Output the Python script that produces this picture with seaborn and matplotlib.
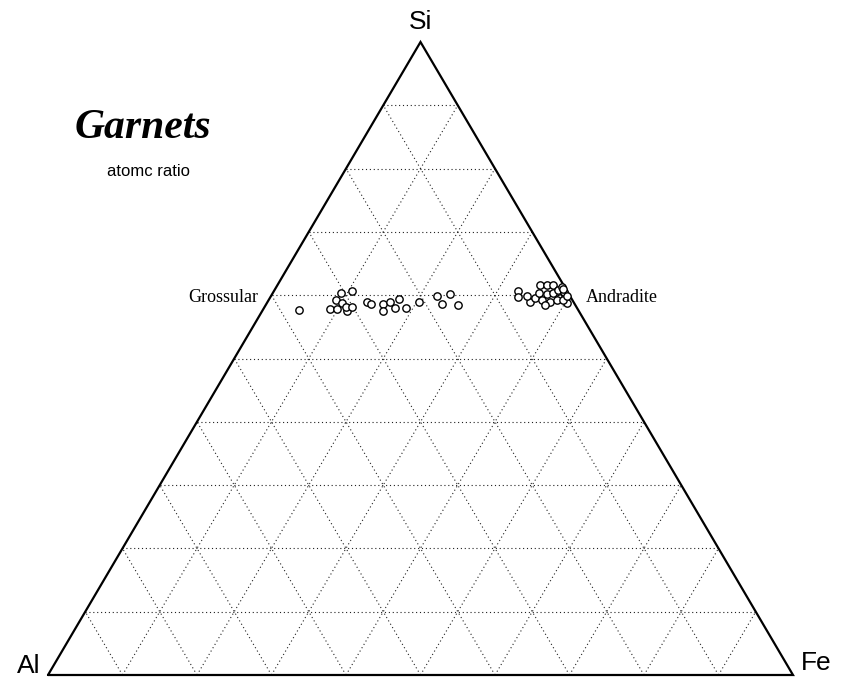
import numpy as np
import pandas as pd
import matplotlib
matplotlib.use("Agg")
import matplotlib.pyplot as plt
import seaborn as sns

# ---- data: atomic fractions (Si, Fe); Al = 1 - Si - Fe ----
grossular_si = [0.577, 0.603, 0.607, 0.592, 0.588, 0.578, 0.578, 0.575, 0.581, 0.581,
                0.590, 0.586, 0.586, 0.575, 0.590, 0.594, 0.580, 0.580, 0.590, 0.599,
                0.602, 0.586, 0.585]
grossular_fe = [0.049, 0.092, 0.105, 0.091, 0.101, 0.090, 0.099, 0.114, 0.109, 0.117,
                0.133, 0.141, 0.157, 0.162, 0.164, 0.174, 0.176, 0.191, 0.203, 0.223,
                0.239, 0.236, 0.258]
andradite_si = [0.607, 0.597, 0.590, 0.596, 0.616, 0.616, 0.616, 0.603, 0.602, 0.603,
                0.593, 0.590, 0.608, 0.596, 0.600, 0.588, 0.613, 0.593, 0.593, 0.599,
                0.585, 0.605, 0.598, 0.610]
andradite_fe = [0.328, 0.332, 0.352, 0.356, 0.352, 0.362, 0.370, 0.358, 0.369, 0.376,
                0.367, 0.379, 0.381, 0.389, 0.394, 0.403, 0.384, 0.387, 0.395, 0.344,
                0.375, 0.390, 0.398, 0.386]
vertex_labels = ["Al", "Fe", "Si"]
grid_fracs = [0.1, 0.2, 0.3, 0.4, 0.5, 0.6, 0.7, 0.8, 0.9]

si = np.array(grossular_si + andradite_si)
fe = np.array(grossular_fe + andradite_fe)
df = pd.DataFrame({"X": fe + si / 2.0, "Y": si})

sns.set_theme(style="white")
plt.rcParams["font.family"] = ["Liberation Sans", "DejaVu Sans"]
plt.rcParams["text.color"] = "black"

fig = plt.figure(figsize=(8.45, 6.84), dpi=100)
ax = fig.add_axes([0, 0, 1, 1])
ax.set_xlim(-48 / 745, (845 - 48) / 745)
ax.set_ylim(-(684 - 675) / 633, 675 / 633)
ax.axis("off")

# grid
gkw = dict(color="#222222", lw=0.8, ls=(0, (1, 2.5)), zorder=1)
for f in grid_fracs:
    # constant Si
    ax.plot([f / 2, 1 - f / 2], [f, f], **gkw)
    # constant Fe
    ax.plot([f, f + (1 - f) / 2], [0, 1 - f], **gkw)
    # constant Al
    ax.plot([1 - f, (1 - f) / 2], [0, 1 - f], **gkw)

# outline
ax.plot([0, 1, 0.5, 0], [0, 0, 1, 0], color="black", lw=1.6, zorder=2,
        solid_joinstyle="miter")

sns.scatterplot(data=df, x="X", y="Y", ax=ax, s=28, marker="o",
                facecolor="white", edgecolor="black", linewidth=1.0, zorder=3)
ax.set_xlabel("")
ax.set_ylabel("")

# vertex labels
ax.text(-8 / 745, -0.005, vertex_labels[0], fontsize=19, ha="right", va="bottom")
ax.text(1.0 + 8 / 745, 0.0, vertex_labels[1], fontsize=19, ha="left", va="bottom")
ax.text(0.5, 1.012, vertex_labels[2], fontsize=19, ha="center", va="bottom")

fig.text(143 / 845, 1 - 128 / 684, "Garnets", family="Liberation Serif",
         fontsize=30, fontweight="bold", style="italic", ha="center", va="center")
fig.text(149 / 845, 1 - 172 / 684, "atomc ratio", fontsize=12,
         ha="center", va="center")
fig.text(258 / 845, 1 - 298 / 684, "Grossular", family="Liberation Serif",
         fontsize=13, ha="right", va="center")
fig.text(586 / 845, 1 - 298 / 684, "Andradite", family="Liberation Serif",
         fontsize=13, ha="left", va="center")

fig.savefig("out.png", dpi=100)
